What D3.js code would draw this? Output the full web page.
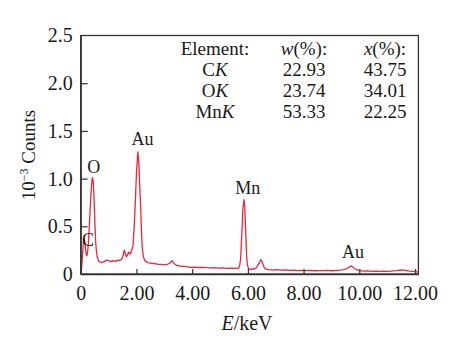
<!DOCTYPE html>
<html><head><meta charset="utf-8">
<script src="https://cdn.jsdelivr.net/npm/d3@7"></script>
<style>body{margin:0;background:#fff;} text{font-family:"Liberation Serif","Times New Roman",serif;fill:#1a1a1a;}</style>
</head><body>
<svg id="c" width="458" height="343"></svg>
<script>
// Spectrum data (energy keV, counts x10^-3)
const energy = [0,0.03,0.06,0.09,0.12,0.15,0.18,0.21,0.24,0.27,0.30,0.33,0.36,0.39,0.42,0.45,0.48,0.51,0.54,0.57,0.60,0.63,0.66,0.70,
 0.75,0.80,0.85,0.90,0.95,1.00,1.05,1.10,1.15,1.20,1.25,1.30,1.35,1.40,1.45,1.50,1.54,1.57,1.60,1.64,1.68,1.72,1.76,1.80,1.84,
 1.88,1.92,1.96,2.00,2.05,2.08,2.11,2.15,2.18,2.21,2.25,2.30,2.35,
 2.40,2.50,2.60,2.70,2.80,2.90,3.00,3.10,3.20,3.28,3.35,3.45,3.55,3.65,3.75,3.85,3.95,4.05,4.20,4.35,4.50,4.65,4.80,4.95,5.10,5.25,5.40,5.55,5.65,
 5.70,5.74,5.78,5.82,5.86,5.89,5.92,5.95,5.98,6.02,6.08,6.15,6.22,6.30,6.38,6.44,6.48,6.52,6.58,6.65,6.75,6.90,7.05,7.20,7.35,7.50,7.65,7.80,7.95,
 8.10,8.25,8.40,8.55,8.70,8.85,9.00,9.15,9.30,9.45,9.55,9.65,9.72,9.80,9.90,10.00,10.15,10.30,10.45,10.60,10.75,10.90,11.05,11.20,11.35,11.50,11.60,11.75,11.90,12.00,12.10];
const counts = [0.02,0.06,0.17,0.31,0.37,0.33,0.24,0.19,0.21,0.30,0.45,0.62,0.80,0.94,1.01,0.97,0.78,0.52,0.32,0.22,0.17,0.15,0.13,0.125,
 0.12,0.125,0.13,0.14,0.145,0.14,0.135,0.13,0.14,0.135,0.13,0.14,0.145,0.14,0.15,0.17,0.22,0.25,0.21,0.18,0.20,0.23,0.21,0.22,0.26,
 0.30,0.50,0.75,1.05,1.28,1.20,0.98,0.72,0.45,0.27,0.18,0.14,0.13,
 0.12,0.115,0.11,0.105,0.10,0.10,0.095,0.10,0.115,0.14,0.11,0.09,0.085,0.08,0.08,0.075,0.07,0.072,0.068,0.07,0.066,0.064,0.066,0.062,0.064,0.060,0.062,0.058,0.06,
 0.08,0.16,0.40,0.68,0.78,0.70,0.45,0.22,0.10,0.06,0.05,0.05,0.055,0.065,0.10,0.14,0.15,0.12,0.07,0.05,0.045,0.04,0.045,0.04,0.042,0.038,0.04,0.036,0.038,
 0.035,0.038,0.034,0.036,0.035,0.038,0.034,0.036,0.04,0.045,0.055,0.075,0.085,0.065,0.045,0.035,0.03,0.032,0.028,0.03,0.028,0.03,0.028,0.032,0.036,0.042,0.04,0.032,0.028,0.025,0.02];

const xTicks = [0,2,4,6,8,10,12];
const xTickLabels = ["0","2.00","4.00","6.00","8.00","10.00","12.00"];
const yTicks = [0,0.5,1.0,1.5,2.0,2.5];
const yTickLabels = ["0","0.5","1.0","1.5","2.0","2.5"];

const peakNames = ["C","O","Au","Mn","Au"];
const peakE = [0.26,0.47,2.22,6.0,9.77];
const peakC = [0.29,1.06,1.35,0.84,0.165];

const tableHeader = ["Element:","w(%):","x(%):"];
const tableElements = ["C","O","Mn"];
const tableW = ["22.93","23.74","53.33"];
const tableX = ["43.75","34.01","22.25"];

const svg = d3.select("#c");
const x = d3.scaleLinear().domain([0,12.12]).range([80.7,418.4]);
const y = d3.scaleLinear().domain([0,2.5]).range([274,35.5]);

// frame
svg.append("rect").attr("x",x(0)).attr("y",y(2.5)).attr("width",x(12.12)-x(0)).attr("height",y(0)-y(2.5))
  .attr("fill","none").attr("stroke","#333").attr("stroke-width",1.3);

// spectrum
const line = d3.line().x((d,i)=>x(energy[i])).y((d,i)=>y(counts[i]));
svg.append("path").datum(counts).attr("d",line).attr("fill","none")
  .attr("stroke","#e8283a").attr("stroke-width",1.3).attr("stroke-linejoin","round");

// axes
const xAxis = d3.axisBottom(x).tickValues(xTicks).tickFormat((d,i)=>xTickLabels[i]).tickSizeInner(-5).tickSizeOuter(0).tickPadding(12);
const gx = svg.append("g").attr("transform",`translate(0,${y(0)})`).call(xAxis);
gx.select(".domain").attr("stroke","#333").attr("stroke-width",1.3);
gx.selectAll(".tick line").attr("stroke","#333").attr("stroke-width",1.2);
gx.selectAll("text").attr("font-size",20).attr("fill","#1a1a1a");

const yAxis = d3.axisLeft(y).tickValues(yTicks).tickFormat((d,i)=>yTickLabels[i]).tickSizeInner(-7).tickSizeOuter(0).tickPadding(8);
const gy = svg.append("g").attr("transform",`translate(${x(0)},0)`).call(yAxis);
gy.select(".domain").attr("stroke","#333").attr("stroke-width",1.3);
gy.selectAll(".tick line").attr("stroke","#333").attr("stroke-width",1.2);
gy.selectAll("text").attr("font-size",20).attr("fill","#1a1a1a");
gy.selectAll(".tick").filter(d=>d===2.5).select("line").remove();

// axis titles
const xt = svg.append("text").attr("x",247).attr("y",330).attr("text-anchor","middle").attr("font-size",20);
xt.append("tspan").attr("font-style","italic").text("E");
xt.append("tspan").text("/keV");

const yt = svg.append("text").attr("transform","translate(35,155) rotate(-90)").attr("text-anchor","middle").attr("font-size",19);
yt.append("tspan").text("10");
yt.append("tspan").attr("font-size",12).attr("dy",-7).text("\u22123");
yt.append("tspan").attr("dy",7).text(" Counts");

// peak labels
svg.selectAll("text.peak").data(peakNames).join("text").attr("class","peak")
  .attr("x",(d,i)=>x(peakE[i])).attr("y",(d,i)=>y(peakC[i])).attr("text-anchor","middle")
  .attr("font-size",18).text(d=>d);

// table
const rowY = [55,76,97,118];
const colElem = 215, colW = 304, colX = 385;
svg.append("text").attr("x",colElem).attr("y",rowY[0]).attr("text-anchor","middle").attr("font-size",19).text(tableHeader[0]);
[[colW,tableHeader[1]],[colX,tableHeader[2]]].forEach(([cx,t])=>{
  const tt = svg.append("text").attr("x",cx).attr("y",rowY[0]).attr("text-anchor","middle").attr("font-size",19);
  tt.append("tspan").attr("font-style","italic").text(t[0]);
  tt.append("tspan").text(t.slice(1));
});
tableElements.forEach((el,i)=>{
  const t = svg.append("text").attr("x",colElem).attr("y",rowY[i+1]).attr("text-anchor","middle").attr("font-size",19);
  t.append("tspan").text(el);
  t.append("tspan").attr("font-style","italic").text("K");
  svg.append("text").attr("x",colW).attr("y",rowY[i+1]).attr("text-anchor","middle").attr("font-size",19).text(tableW[i]);
  svg.append("text").attr("x",colX).attr("y",rowY[i+1]).attr("text-anchor","middle").attr("font-size",19).text(tableX[i]);
});
</script>
</body></html>
